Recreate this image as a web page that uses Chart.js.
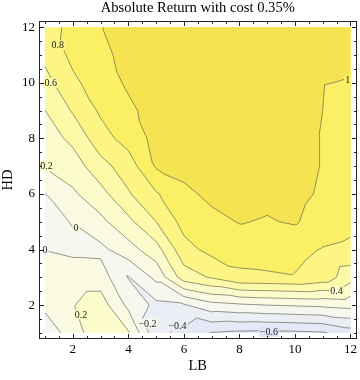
<!DOCTYPE html>
<html>
<head>
<meta charset="utf-8">
<script src="https://cdn.jsdelivr.net/npm/chart.js@4.4.1/dist/chart.umd.min.js"></script>
<style>
  html, body { margin: 0; padding: 0; background: #fff; }
</style>
</head>
<body>
<canvas id="myChart" width="360" height="380"></canvas>
<script>
'use strict';

// grid of the surface: LB across, HD up
const lbValues = [1, 2, 3, 4, 5, 6, 7, 8, 9, 10, 11, 12];
const hdValues = [1, 2, 3, 4, 5, 6, 7, 8, 9, 10, 11, 12];

// absolute return, one row per HD, values for LB = 1..12
const hd1  = [-0.16, 0.12, 0.32, 0.22, -0.35, -0.45, -0.61, -0.64, -0.65, -0.64, -0.62, -0.50];
const hd2  = [0.06, 0.19, 0.30, -0.05, -0.25, -0.22, -0.07, -0.03, 0.00, 0.02, 0.04, 0.07];
const hd3  = [0.06, 0.10, 0.10, -0.21, 0.05, 0.50, 0.62, 0.76, 0.77, 0.79, 0.72, 0.48];
const hd4  = [-0.005, -0.04, -0.05, 0.12, 0.32, 0.73, 0.86, 0.88, 0.90, 0.85, 0.79, 0.76];
const hd5  = [-0.06, 0.01, 0.15, 0.35, 0.60, 0.87, 0.94, 1.01, 0.985, 1.02, 0.90, 0.85];
const hd6  = [-0.005, 0.17, 0.33, 0.58, 0.78, 0.95, 1.05, 1.08, 1.05, 1.06, 0.97, 0.88];
const hd7  = [0.21, 0.30, 0.53, 0.70, 1.02, 1.07, 1.09, 1.10, 1.08, 1.08, 0.99, 0.91];
const hd8  = [0.30, 0.45, 0.72, 0.88, 1.06, 1.09, 1.10, 1.10, 1.09, 1.08, 0.99, 0.93];
const hd9  = [0.40, 0.62, 0.83, 0.96, 1.08, 1.10, 1.10, 1.10, 1.09, 1.07, 1.00, 0.96];
const hd10 = [0.53, 0.76, 0.90, 1.03, 1.08, 1.10, 1.10, 1.10, 1.09, 1.07, 1.003, 0.995];
const hd11 = [0.65, 0.85, 0.96, 1.05, 1.08, 1.09, 1.10, 1.10, 1.09, 1.07, 1.03, 1.025];
const hd12 = [0.74, 0.84, 0.995, 1.06, 1.08, 1.09, 1.10, 1.10, 1.09, 1.07, 1.03, 1.03];

const contourLevels = [-0.6, -0.4, -0.2, 0, 0.2, 0.4, 0.6, 0.8, 1];
const xTicks = [2, 4, 6, 8, 10, 12];
const yTicks = [2, 4, 6, 8, 10, 12];

const bandColors = ['#dfe3f6', '#e5e8f5', '#ebeef4', '#f6f7ee', '#fafae2', '#fbfbcb',
                    '#fcf9a9', '#fcf583', '#fbef66', '#f6e352'];
const serif = "'Liberation Serif', 'DejaVu Serif', serif";

// where the contour labels sit (LB, HD) and which level they show
const labelSpots = [
    [1.46, 11.35, 0.8], [1.2, 10.0, 0.6], [11.9, 10.1, 1], [1.05, 7.0, 0.2],
    [2.11, 4.79, 0], [1.0, 4.0, 0], [2.29, 1.66, 0.2], [4.69, 1.34, -0.2],
    [5.77, 1.24, -0.4], [9.06, 1.03, -0.6], [11.5, 2.5, 0.4]
];

const rows = [hd1, hd2, hd3, hd4, hd5, hd6, hd7, hd8, hd9, hd10, hd11, hd12];
let gridPoints = [];
hdValues.forEach((hd, r) => {
    lbValues.forEach((lb, c) => {
        gridPoints.push({ x: lb, y: hd, v: rows[r][c] });
    });
});

let clipAbove = function (poly, level) {
    let out = [];
    for (let i = 0; i < poly.length; i++) {
        let p = poly[i];
        let q = poly[(i + 1) % poly.length];
        let pin = p.v >= level;
        let qin = q.v >= level;
        if (pin) out.push(p);
        if (pin !== qin) {
            let t = (level - p.v) / (q.v - p.v);
            out.push({ x: p.x + t * (q.x - p.x), y: p.y + t * (q.y - p.y), v: level });
        }
    }
    return out;
};

let bandIndex = function (v) {
    let k = 0;
    while (k < contourLevels.length && v >= contourLevels[k]) k++;
    return k;
};

let fieldAt = function (lb, hd) {
    let c = Math.min(Math.max(Math.floor(lb - 1), 0), lbValues.length - 2);
    let r = Math.min(Math.max(Math.floor(hd - 1), 0), hdValues.length - 2);
    let fx = lb - lbValues[c];
    let fy = hd - hdValues[r];
    let v00 = rows[r][c], v10 = rows[r][c + 1], v01 = rows[r + 1][c], v11 = rows[r + 1][c + 1];
    return v00 * (1 - fx) * (1 - fy) + v10 * fx * (1 - fy) + v01 * (1 - fx) * fy + v11 * fx * fy;
};

const contourPlugin = {
    id: 'contour',
    beforeDatasetsDraw(chart) {
        const ctx = chart.ctx;
        const xs = chart.scales.x;
        const ys = chart.scales.y;
        const nx = lbValues.length;
        const ny = hdValues.length;
        const pts = chart.data.datasets[0].data.map(d => ({
            x: xs.getPixelForValue(d.x), y: ys.getPixelForValue(d.y), v: d.v
        }));
        const at = (c, r) => pts[r * nx + c];

        // each cell cut along its lower-right / upper-left diagonal
        let tris = [];
        for (let r = 0; r < ny - 1; r++) {
            for (let c = 0; c < nx - 1; c++) {
                let a = at(c, r), b = at(c + 1, r), e = at(c + 1, r + 1), d = at(c, r + 1);
                tris.push([a, b, d], [b, e, d]);
            }
        }

        ctx.save();
        // lowest band over the whole data rectangle
        let p0 = at(0, 0), p1 = at(nx - 1, ny - 1);
        ctx.fillStyle = bandColors[0];
        ctx.fillRect(p0.x, p1.y, p1.x - p0.x, p0.y - p1.y);

        contourLevels.forEach((level, k) => {
            ctx.beginPath();
            tris.forEach(t => {
                let poly = clipAbove(t, level);
                if (poly.length < 3) return;
                ctx.moveTo(poly[0].x, poly[0].y);
                for (let i = 1; i < poly.length; i++) ctx.lineTo(poly[i].x, poly[i].y);
                ctx.closePath();
            });
            ctx.fillStyle = bandColors[k + 1];
            ctx.fill();
        });

        // contour lines
        ctx.beginPath();
        contourLevels.forEach(level => {
            tris.forEach(t => {
                let hits = [];
                for (let i = 0; i < 3; i++) {
                    let p = t[i], q = t[(i + 1) % 3];
                    if ((p.v >= level) !== (q.v >= level)) {
                        let s = (level - p.v) / (q.v - p.v);
                        hits.push([p.x + s * (q.x - p.x), p.y + s * (q.y - p.y)]);
                    }
                }
                if (hits.length === 2) {
                    ctx.moveTo(hits[0][0], hits[0][1]);
                    ctx.lineTo(hits[1][0], hits[1][1]);
                }
            });
        });
        ctx.strokeStyle = 'rgba(70, 70, 60, 0.55)';
        ctx.lineWidth = 1;
        ctx.stroke();

        // labels on the lines
        ctx.font = '10px ' + serif;
        ctx.textAlign = 'center';
        ctx.textBaseline = 'middle';
        labelSpots.forEach(spot => {
            let px = xs.getPixelForValue(spot[0]);
            let py = ys.getPixelForValue(spot[1]);
            let txt = String(spot[2]).replace('-', '\u2212');
            let w = ctx.measureText(txt).width;
            ctx.fillStyle = bandColors[bandIndex(fieldAt(spot[0], spot[1]))];
            ctx.fillRect(px - w / 2 - 1, py - 5, w + 2, 10);
            ctx.fillStyle = '#222';
            ctx.fillText(txt, px, py + 0.5);
        });
        ctx.restore();
    },
    afterDraw(chart) {
        const ctx = chart.ctx;
        const area = chart.chartArea;
        const xs = chart.scales.x;
        const ys = chart.scales.y;
        const L = Math.round(area.left) + 0.5, R = Math.round(area.right) - 0.5;
        const T = Math.round(area.top) + 0.5, B = Math.round(area.bottom) - 0.5;
        ctx.save();
        ctx.strokeStyle = '#222';
        ctx.lineWidth = 1;
        ctx.strokeRect(L, T, R - L, B - T);
        ctx.beginPath();
        for (let v = 1; v <= 12; v += 0.5) {
            let len = xTicks.includes(v) ? 4.5 : 2.5;
            let px = Math.round(xs.getPixelForValue(v)) + 0.5;
            ctx.moveTo(px, B); ctx.lineTo(px, B - len);
            ctx.moveTo(px, T); ctx.lineTo(px, T + len);
            let lenY = yTicks.includes(v) ? 4.5 : 2.5;
            let py = Math.round(ys.getPixelForValue(v)) + 0.5;
            ctx.moveTo(L, py); ctx.lineTo(L + lenY, py);
            ctx.moveTo(R, py); ctx.lineTo(R - lenY, py);
        }
        ctx.stroke();
        ctx.restore();
    }
};

new Chart(document.getElementById('myChart'), {
    type: 'scatter',
    data: {
        datasets: [{
            label: 'Absolute Return',
            data: gridPoints,
            pointRadius: 0,
            pointHoverRadius: 0
        }]
    },
    options: {
        responsive: false,
        animation: false,
        devicePixelRatio: 1,
        layout: { padding: { right: 3 } },
        plugins: {
            legend: { display: false },
            tooltip: { enabled: false },
            title: {
                display: true,
                fullSize: false,
                text: 'Absolute Return with cost 0.35%',
                color: '#000',
                font: { family: serif, size: 14.6, weight: 'normal', lineHeight: 1.1 },
                padding: { top: 0, bottom: 5 }
            }
        },
        scales: {
            x: {
                type: 'linear',
                min: 0.78,
                max: 12.22,
                grid: { display: false, drawTicks: false },
                border: { display: false },
                afterBuildTicks: s => { s.ticks = xTicks.map(v => ({ value: v })); },
                afterFit: s => { s.height = 41; },
                ticks: { color: '#000', font: { family: serif, size: 13 }, padding: 3, maxRotation: 0 },
                title: { display: true, text: 'LB', color: '#000', font: { family: serif, size: 14.5 }, padding: { top: 0, bottom: 5 } }
            },
            y: {
                type: 'linear',
                min: 0.78,
                max: 12.22,
                grid: { display: false, drawTicks: false },
                border: { display: false },
                afterBuildTicks: s => { s.ticks = yTicks.map(v => ({ value: v })); },
                afterFit: s => { s.width = 39; },
                ticks: { color: '#000', font: { family: serif, size: 13 }, padding: 4 },
                title: { display: true, text: 'HD', color: '#000', font: { family: serif, size: 14.5, lineHeight: 1.1 }, padding: { top: 0, bottom: 0 } }
            }
        }
    },
    plugins: [contourPlugin]
});
</script>
</body>
</html>
